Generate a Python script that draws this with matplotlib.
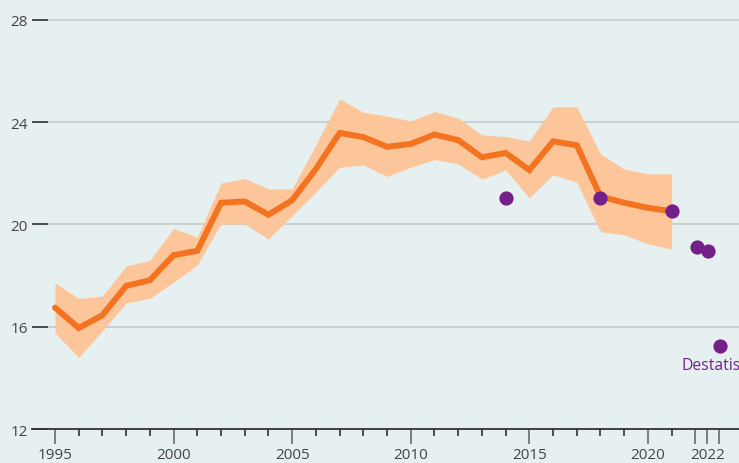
import matplotlib
matplotlib.use("Agg")
import matplotlib.pyplot as plt
from matplotlib.ticker import FixedLocator, FixedFormatter

plt.rcParams['font.family'] = ['Open Sans', 'DejaVu Sans']

# Model estimate (central line) and uncertainty band
years = list(range(1995, 2022))
central = [16.75, 15.95, 16.45, 17.6, 17.82, 18.8, 18.97, 20.85, 20.9, 20.38, 20.95,
           22.17, 23.58, 23.42, 23.04, 23.15, 23.52, 23.3, 22.63, 22.8, 22.13,
           23.25, 23.1, 21.1, 20.85, 20.65, 20.52]
upper = [17.72, 17.1, 17.2, 18.37, 18.6, 19.85, 19.5, 21.62, 21.8, 21.39, 21.39,
         23.12, 24.91, 24.39, 24.24, 24.05, 24.42, 24.16, 23.5, 23.44, 23.26,
         24.6, 24.6, 22.76, 22.17, 21.98, 21.98]
lower = [15.76, 14.8, 15.85, 16.93, 17.11, 17.74, 18.42, 20.02, 20.02, 19.43, 20.35,
         21.27, 22.24, 22.33, 21.88, 22.24, 22.54, 22.37, 21.78, 22.13, 21.04,
         21.95, 21.65, 19.72, 19.6, 19.24, 19.04]

# Destatis observations
destatis_x = [2014, 2018, 2021, 2022.05, 2022.52, 2023.03]
destatis_y = [21.04, 21.04, 20.53, 19.1, 18.97, 15.25]
destatis_label = "Destatis"

ytick_vals = [12, 16, 20, 24, 28]
xmajor_vals = [1995, 2000, 2005, 2010, 2015, 2020, 2022, 2022.5, 2023]
xmajor_labels = ["1995", "2000", "2005", "2010", "2015", "2020", "", "2022", ""]
xminor_vals = [y for y in range(1996, 2022) if y % 5 != 0]

bg = "#e6f0f1"
orange = "#f47321"
band = "#fcc59a"
purple = "#74208a"
dark = "#333333"

fig = plt.figure(figsize=(7.39, 4.64), dpi=100, facecolor=bg)
W, H = 739, 464
ax = fig.add_axes([32 / W, (H - 430) / H, 1 - 32 / W, 430 / H])
ax.set_facecolor(bg)

ax.fill_between(years, lower, upper, color=band, linewidth=0, zorder=2)
ax.plot(years, central, color=orange, linewidth=4.3, solid_capstyle='round',
        solid_joinstyle='miter', zorder=3)
ax.scatter(destatis_x, destatis_y, s=105, color=purple, linewidths=0, zorder=4)
ax.text(destatis_x[-1] - 1.62, destatis_y[-1] - 0.75, destatis_label, color=purple,
        fontsize=11.3, ha='left', va='center', zorder=5, clip_on=False)

ax.set_xlim(1994.03, 2023.84)
ax.set_ylim(12, 28.82)

for s in ['top', 'right', 'left']:
    ax.spines[s].set_visible(False)
ax.spines['bottom'].set_color(dark)
ax.spines['bottom'].set_linewidth(1.3)
ax.spines['bottom'].set_zorder(6)

ax.yaxis.set_major_locator(FixedLocator(ytick_vals))
ax.tick_params(axis='y', direction='in', length=11.5, width=1.2, color=dark,
               labelsize=11, labelcolor="#444444", pad=3)
ax.grid(axis='y', color="#c3c7c9", linewidth=1.1, zorder=1)
ax.set_axisbelow(True)

ax.xaxis.set_major_locator(FixedLocator(xmajor_vals))
ax.xaxis.set_major_formatter(FixedFormatter(xmajor_labels))
ax.xaxis.set_minor_locator(FixedLocator(xminor_vals))
ax.tick_params(axis='x', which='major', direction='out', length=11, width=1.2,
               color="#6a6a6a", labelsize=11, labelcolor="#444444", pad=2)
ax.tick_params(axis='x', which='minor', direction='out', length=5, width=1.2,
               color=dark)

fig.savefig("out.png", dpi=100, facecolor=bg)
